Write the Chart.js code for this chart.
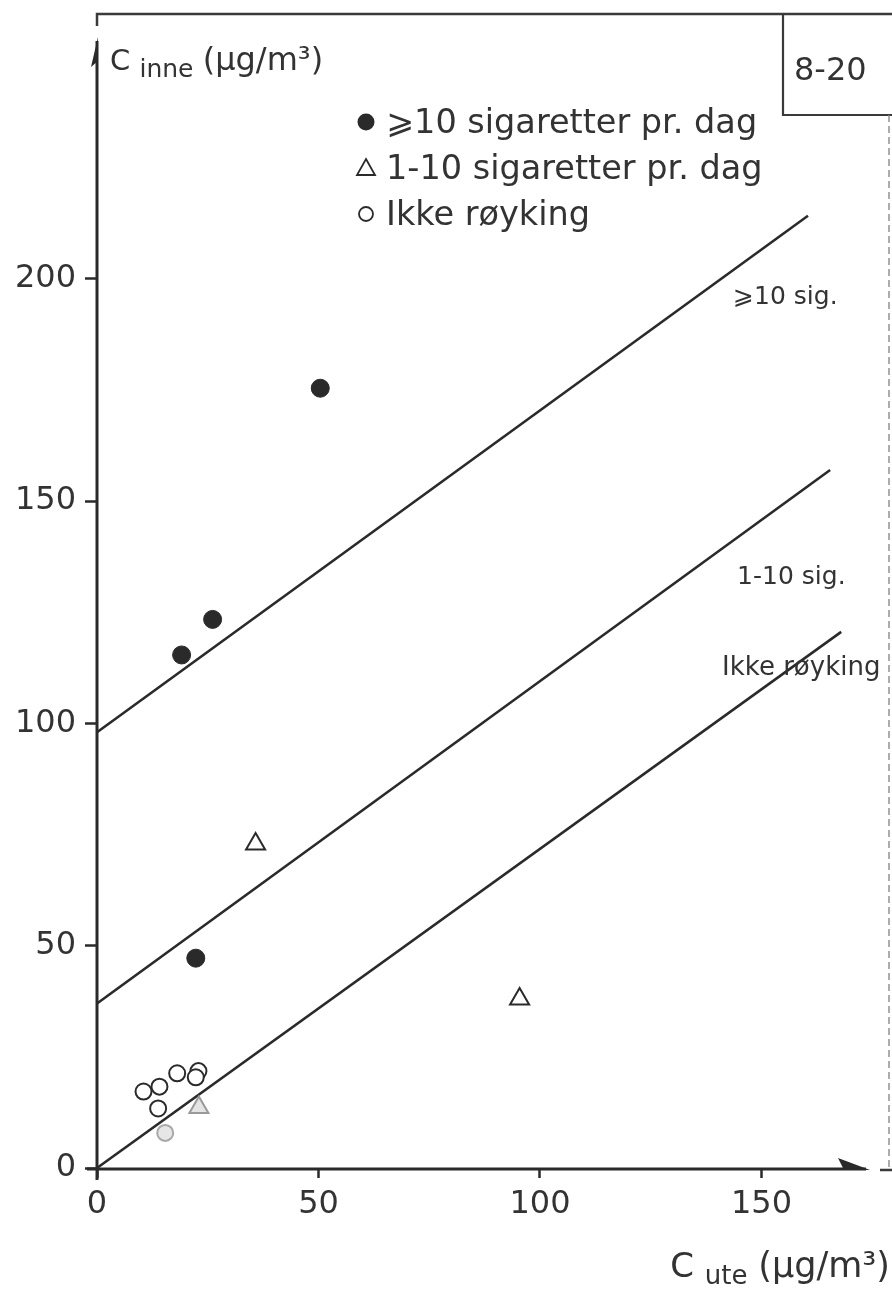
<!DOCTYPE html>
<html>
<head>
<meta charset="utf-8">
<title>Cinne mot Cute</title>
<script src="https://cdn.jsdelivr.net/npm/chart.js@4.4.1/dist/chart.umd.min.js"></script>
<style>
  html, body { margin: 0; padding: 0; background: #ffffff; }
  canvas { display: block; }
</style>
</head>
<body>
<canvas id="chart" width="892" height="1290"></canvas>
<script>
// Series names (legend) and fitted-line labels
const seriesNames = ['\u2A7E10 sigaretter pr. dag', '1-10 sigaretter pr. dag', 'Ikke røyking'];
const fitLabels = ['\u2A7E10 sig.', '1-10 sig.', 'Ikke røyking'];

// ≥10 cigarettes per day (filled circles)
const heavyX = [50.4, 19.1, 26.1, 22.3];
const heavyY = [175.4, 115.4, 123.4, 47.2];

// 1-10 cigarettes per day (open triangles)
const lightX = [35.8, 95.4, 23.0];
const lightY = [72.9, 38.0, 13.6];

// Non-smoking homes (open circles)
const noneX = [10.5, 14.1, 13.8, 18.1, 22.9, 22.3, 15.4];
const noneY = [17.2, 18.3, 13.4, 21.3, 21.8, 20.4, 7.9];

// Fitted lines: start and end points for each group
const fitX0 = [0, 0, 0];
const fitY0 = [98, 37, 0];
const fitX1 = [160.5, 165.5, 168];
const fitY1 = [214.2, 157, 120.6];

// Axis ticks
const xTicks = [0, 50, 100, 150];
const yTicks = [0, 50, 100, 150, 200];

const INK = '#2a2a2a';
const TEXT = '#333333';
const FONT = '"DejaVu Sans", "Liberation Sans", Arial, sans-serif';

const toPts = (xs, ys) => xs.map((x, i) => ({ x: x, y: ys[i] }));

const fitDatasets = fitLabels.map((lab, i) => ({
  type: 'line',
  label: lab,
  data: [{ x: fitX0[i], y: fitY0[i] }, { x: fitX1[i], y: fitY1[i] }],
  borderColor: INK,
  borderWidth: 2.6,
  pointRadius: 0,
  fill: false,
  clip: false,
  order: 2
}));

const pointDatasets = [
  {
    type: 'scatter', label: seriesNames[0],
    data: toPts(heavyX, heavyY),
    pointStyle: 'circle', pointRadius: 9,
    backgroundColor: INK, borderColor: INK, borderWidth: 1, order: 1
  },
  {
    type: 'scatter', label: seriesNames[1],
    data: toPts(lightX, lightY),
    pointStyle: 'triangle', pointRadius: 11,
    backgroundColor: ['#ffffff', '#ffffff', '#e4e4e4'],
    borderColor: [INK, INK, '#9a9a9a'], borderWidth: 2, order: 1
  },
  {
    type: 'scatter', label: seriesNames[2],
    data: toPts(noneX, noneY),
    pointStyle: 'circle', pointRadius: 8,
    backgroundColor: ['#ffffff', '#ffffff', '#ffffff', '#ffffff', '#ffffff', '#ffffff', '#e6e6e6'],
    borderColor: [INK, INK, INK, INK, INK, INK, '#a8a8a8'], borderWidth: 2, order: 1
  }
];

// Where the fitted-line names sit (data units, left edge / vertical centre)
const fitLabelAnchors = [
  { x: 143.6, y: 195.9 },
  { x: 144.5, y: 132.9 },
  { x: 141.1, y: 112.5 }
];

const decor = {
  id: 'decor',
  afterDraw(chart) {
    const ctx = chart.ctx;
    const xs = chart.scales.x, ys = chart.scales.y;
    const x0 = xs.getPixelForValue(0), y0 = ys.getPixelForValue(0);
    const ca = chart.chartArea;
    ctx.save();
    ctx.strokeStyle = INK;
    ctx.fillStyle = INK;
    ctx.lineCap = 'butt';

    // y axis with arrow
    ctx.lineWidth = 3;
    ctx.beginPath();
    ctx.moveTo(x0, y0 + 12);
    ctx.lineTo(x0, ca.top + 4);
    ctx.stroke();
    ctx.beginPath();
    ctx.moveTo(x0 + 1, ca.top);
    ctx.lineTo(x0 - 6, ca.top + 30);
    ctx.lineTo(x0 + 1, ca.top + 24);
    ctx.closePath();
    ctx.fill();

    // x axis with arrow
    ctx.beginPath();
    ctx.moveTo(x0 - 10, y0 + 1);
    ctx.lineTo(ca.right - 4, y0 + 1);
    ctx.stroke();
    ctx.beginPath();
    ctx.moveTo(ca.right, y0 + 2);
    ctx.lineTo(ca.right - 32, y0 - 10);
    ctx.lineTo(ca.right - 26, y0 + 2);
    ctx.closePath();
    ctx.fill();

    // outer frame pieces
    ctx.lineWidth = 2.5;
    ctx.strokeStyle = '#3a3a3a';
    ctx.beginPath();
    ctx.moveTo(x0, 26);
    ctx.lineTo(x0, 14);
    ctx.lineTo(892, 14);
    ctx.stroke();
    ctx.beginPath();
    ctx.moveTo(880, y0 + 2);
    ctx.lineTo(892, y0 + 2);
    ctx.stroke();

    // figure number box
    ctx.lineWidth = 2.2;
    ctx.beginPath();
    ctx.moveTo(783, 14);
    ctx.lineTo(783, 115);
    ctx.lineTo(892, 115);
    ctx.stroke();
    ctx.font = '32px ' + FONT;
    ctx.fillStyle = TEXT;
    ctx.textBaseline = 'alphabetic';
    ctx.textAlign = 'left';
    ctx.fillText('8-20', 794, 80);

    // dashed right border
    ctx.strokeStyle = '#8a8a8a';
    ctx.lineWidth = 1.4;
    ctx.setLineDash([7, 4]);
    ctx.beginPath();
    ctx.moveTo(889, 115);
    ctx.lineTo(889, y0 + 2);
    ctx.stroke();
    ctx.setLineDash([]);

    // axis titles with subscripts
    const drawTitle = (x, base, main, sub, rest, bigSize, subSize, restSize, align) => {
      ctx.font = bigSize + 'px ' + FONT;
      const wMain = ctx.measureText(main).width;
      const wSpace = ctx.measureText(' ').width;
      ctx.font = restSize + 'px ' + FONT;
      const wRest = ctx.measureText(rest).width;
      ctx.font = subSize + 'px ' + FONT;
      const wSub = ctx.measureText(sub).width;
      const total = wMain + wSpace + wSub + wSpace + wRest;
      let cx = align === 'right' ? x - total : x;
      ctx.textAlign = 'left';
      ctx.font = bigSize + 'px ' + FONT;
      ctx.fillText(main, cx, base);
      cx += wMain + wSpace;
      ctx.font = subSize + 'px ' + FONT;
      ctx.fillText(sub, cx, base + 7);
      cx += wSub + wSpace;
      ctx.font = restSize + 'px ' + FONT;
      ctx.fillText(rest, cx, base);
    };
    ctx.fillStyle = TEXT;
    drawTitle(110, 70, 'C', 'inne', '(µg/m³)', 29, 25, 32, 'left');
    drawTitle(890, 1277, 'C', 'ute', '(µg/m³)', 34, 26, 35, 'right');

    // legend
    const legX = 366;
    const legRows = [122, 168, 214];
    ctx.font = '33.5px ' + FONT;
    ctx.textBaseline = 'middle';
    pointDatasets.forEach((ds, i) => {
      const cy = legRows[i];
      ctx.lineWidth = 1.8;
      ctx.strokeStyle = INK;
      if (i === 0) {
        ctx.fillStyle = INK;
        ctx.beginPath(); ctx.arc(legX, cy, 8.5, 0, Math.PI * 2); ctx.fill();
      } else if (i === 1) {
        ctx.beginPath();
        ctx.moveTo(legX, cy - 9);
        ctx.lineTo(legX + 9, cy + 7);
        ctx.lineTo(legX - 9, cy + 7);
        ctx.closePath(); ctx.stroke();
      } else {
        ctx.beginPath(); ctx.arc(legX, cy, 7, 0, Math.PI * 2); ctx.stroke();
      }
      ctx.fillStyle = TEXT;
      ctx.fillText(ds.label, legX + 20, cy + 2);
    });

    // names beside the fitted lines
    fitLabels.forEach((lab, i) => {
      const a = fitLabelAnchors[i];
      ctx.font = (i === 2 ? 26 : 25) + 'px ' + FONT;
      ctx.fillText(lab, xs.getPixelForValue(a.x), ys.getPixelForValue(a.y));
    });
    ctx.restore();
  }
};

const tickFont = { family: FONT, size: 32 };

new Chart(document.getElementById('chart'), {
  data: { datasets: [...fitDatasets, ...pointDatasets] },
  options: {
    responsive: false,
    animation: false,
    devicePixelRatio: 1,
    layout: { padding: { top: 37, right: 22, left: 0, bottom: 0 } },
    plugins: { legend: { display: false }, tooltip: { enabled: false } },
    scales: {
      x: {
        type: 'linear', min: 0, max: 174.5,
        afterFit(s) { s.height = 122; },
        afterBuildTicks(s) { s.ticks = xTicks.map(v => ({ value: v })); },
        grid: { display: true, drawOnChartArea: false, drawTicks: true, tickLength: 10, tickWidth: 2.5, tickColor: INK, color: 'rgba(0,0,0,0)' },
        border: { display: false },
        ticks: { font: tickFont, color: TEXT, padding: 7, maxRotation: 0 }
      },
      y: {
        type: 'linear', min: 0, max: 254.4,
        afterFit(s) { s.width = 97; },
        afterBuildTicks(s) { s.ticks = yTicks.map(v => ({ value: v })); },
        grid: { display: true, drawOnChartArea: false, drawTicks: true, tickLength: 12, tickWidth: 2.5, tickColor: INK, color: 'rgba(0,0,0,0)' },
        border: { display: false },
        ticks: { font: tickFont, color: TEXT, padding: 9 }
      }
    }
  },
  plugins: [decor]
});
</script>
</body>
</html>
